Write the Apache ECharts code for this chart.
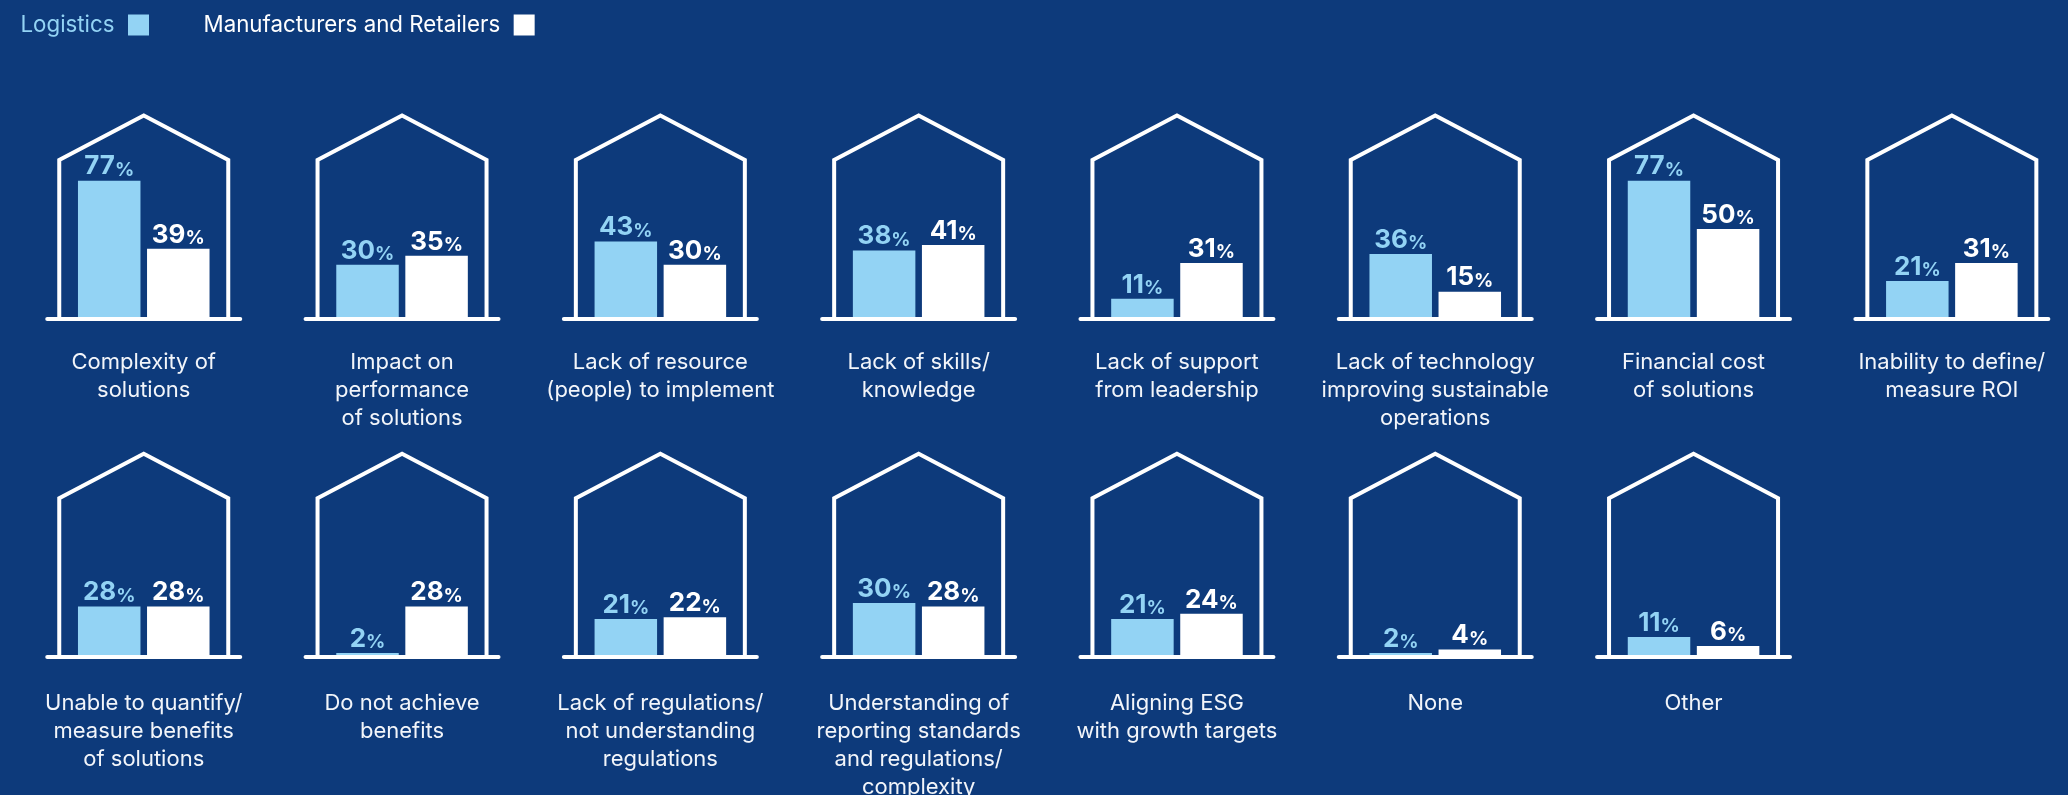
<!DOCTYPE html>
<html>
<head>
<meta charset="utf-8">
<style>
  html, body { margin: 0; padding: 0; background: #0d3a7b; }
  #chart { width: 2068px; height: 795px; }
</style>
<script src="https://cdn.jsdelivr.net/npm/echarts@6/dist/echarts.min.js"></script>
</head>
<body>
<div id="chart"></div>
<script>
// Barriers to adopting sustainable solutions, % of respondents
const categories = [
  'Complexity of\nsolutions',
  'Impact on\nperformance\nof solutions',
  'Lack of resource\n(people) to implement',
  'Lack of skills/\nknowledge',
  'Lack of support\nfrom leadership',
  'Lack of technology\nimproving sustainable\noperations',
  'Financial cost\nof solutions',
  'Inability to define/\nmeasure ROI',
  'Unable to quantify/\nmeasure benefits\nof solutions',
  'Do not achieve\nbenefits',
  'Lack of regulations/\nnot understanding\nregulations',
  'Understanding of\nreporting standards\nand regulations/\ncomplexity',
  'Aligning ESG\nwith growth targets',
  'None',
  'Other'
];
const logistics = [77, 30, 43, 38, 11, 36, 77, 21, 28, 2, 21, 30, 21, 2, 11];
const manufacturers = [39, 35, 30, 41, 31, 15, 50, 31, 28, 28, 22, 28, 24, 4, 6];
const seriesNames = ['Logistics', 'Manufacturers and Retailers'];

const BG = '#0d3a7b';
const LIGHT = '#93d3f4';
const WHITE = '#ffffff';
const FONT = "Inter, 'Open Sans', sans-serif";

// House layout: 8 per row
const PER_ROW = 8;
const FIRST_CX = 143.75, STEP_X = 258.3;
const FIRST_GROUND = 318.5, STEP_Y = 338.2;
const HALF_GROUND = 96.5;      // half length of the ground line
const HALF_WALL = 84.5;        // half distance between the walls
const EAVES_DROP = 158.5;      // ground to eaves
const PEAK_DROP = 203;         // ground to roof peak
const PLOT_H = 179;            // height for 0..100 %

const grids = [], xAxes = [], yAxes = [], series = [], graphics = [];

function valueLabel(color) {
  return {
    show: true,
    position: 'top',
    distance: 1,
    formatter: p => '{v|' + p.value + '}{p|%}',
    rich: {
      v: { fontFamily: FONT, fontSize: 26, fontWeight: 'bold', color: color, verticalAlign: 'bottom', lineHeight: 28 },
      p: { fontFamily: FONT, fontSize: 19, fontWeight: 'bold', color: color, verticalAlign: 'bottom', lineHeight: 26 }
    }
  };
}

categories.forEach((cat, i) => {
  const row = Math.floor(i / PER_ROW), col = i % PER_ROW;
  const cx = FIRST_CX + col * STEP_X;
  const ground = FIRST_GROUND + row * STEP_Y;

  grids.push({
    left: cx - HALF_GROUND,
    width: HALF_GROUND * 2,
    top: ground - PLOT_H,
    height: PLOT_H,
    outerBoundsMode: 'none',
    containLabel: false
  });

  xAxes.push({
    gridIndex: i,
    type: 'category',
    data: [cat],
    z: 10,
    axisTick: { show: false },
    axisLine: { lineStyle: { color: WHITE, width: 4, cap: 'round' } },
    axisLabel: {
      interval: 0,
      margin: row === 0 ? 30 : 33,
      color: '#f2f5fa',
      fontFamily: FONT,
      fontSize: 22,
      lineHeight: 28,
      align: 'center'
    }
  });

  yAxes.push({ gridIndex: i, type: 'value', min: 0, max: 100, show: false });

  series.push({
    name: seriesNames[0], type: 'bar', xAxisIndex: i, yAxisIndex: i,
    data: [logistics[i]], barWidth: 62.5, barGap: '10.5%',
    itemStyle: { color: LIGHT }, label: valueLabel(LIGHT)
  });
  series.push({
    name: seriesNames[1], type: 'bar', xAxisIndex: i, yAxisIndex: i,
    data: [manufacturers[i]], barWidth: 62.5, barGap: '10.5%',
    itemStyle: { color: WHITE }, label: valueLabel(WHITE)
  });

  // house outline: walls and roof
  graphics.push({
    type: 'polyline',
    silent: true,
    z: 5,
    shape: {
      points: [
        [cx - HALF_WALL, ground],
        [cx - HALF_WALL, ground - EAVES_DROP],
        [cx, ground - PEAK_DROP],
        [cx + HALF_WALL, ground - EAVES_DROP],
        [cx + HALF_WALL, ground]
      ]
    },
    style: { stroke: WHITE, fill: null, lineWidth: 4, lineJoin: 'miter' }
  });
});

const chart = echarts.init(document.getElementById('chart'), null, { renderer: 'canvas' });
chart.setOption({
  backgroundColor: BG,
  animation: false,
  legend: {
    left: 15.5,
    top: 9,
    align: 'right',
    icon: 'rect',
    itemWidth: 21,
    itemHeight: 21,
    itemGap: 54.5,
    textStyle: { fontFamily: FONT, fontSize: 22.3, padding: [0, 8.5, 0, 0] },
    data: [
      { name: seriesNames[0], textStyle: { color: LIGHT } },
      { name: seriesNames[1], textStyle: { color: WHITE } }
    ]
  },
  grid: grids,
  xAxis: xAxes,
  yAxis: yAxes,
  series: series,
  graphic: graphics
});
</script>
</body>
</html>
